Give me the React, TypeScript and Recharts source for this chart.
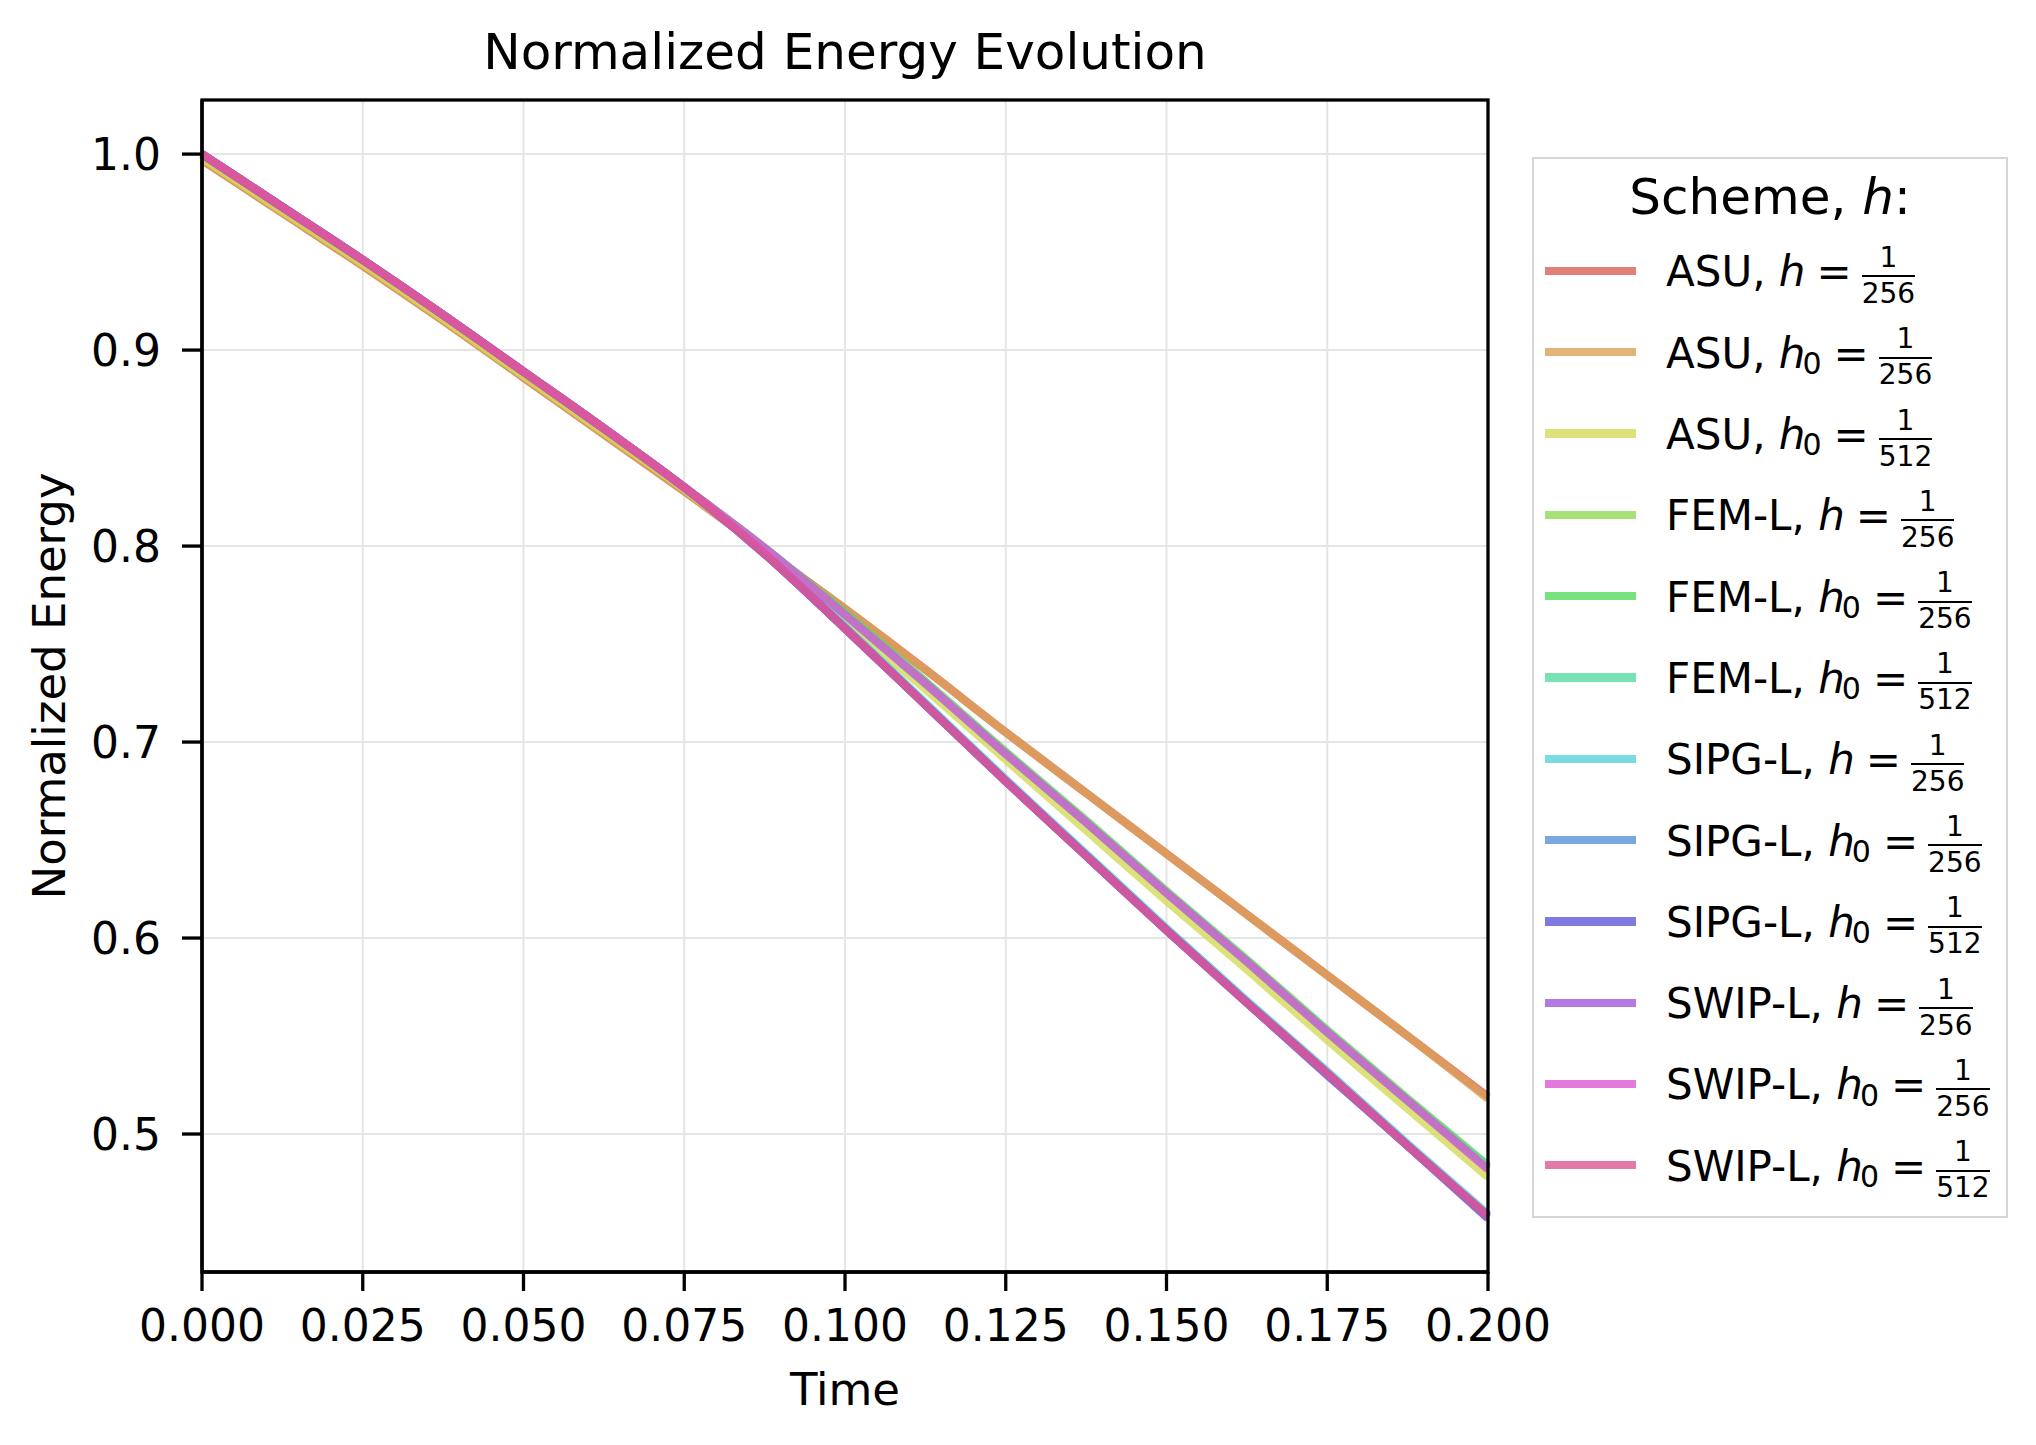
import React from 'react';
import { LineChart, Line, XAxis, YAxis, CartesianGrid } from 'recharts';

// time samples (x axis)
const time = [0, 0.0125, 0.025, 0.0375, 0.05, 0.0625, 0.075, 0.0875, 0.1, 0.1125, 0.125, 0.1375, 0.15, 0.1625, 0.175, 0.1875, 0.2];

// normalized energy per scheme
const asuH256 = [0.997, 0.970, 0.943, 0.915, 0.886, 0.857, 0.828, 0.798, 0.768, 0.737, 0.705, 0.674, 0.643, 0.612, 0.581, 0.550, 0.519];
const asuH0_256 = [0.997, 0.970, 0.943, 0.915, 0.886, 0.857, 0.828, 0.798, 0.768, 0.737, 0.705, 0.674, 0.643, 0.612, 0.581, 0.550, 0.518];
const asuH0_512 = [0.998, 0.971, 0.944, 0.916, 0.887, 0.858, 0.829, 0.797, 0.762, 0.727, 0.691, 0.655, 0.619, 0.584, 0.548, 0.513, 0.478];
const femH256 = [1.000, 0.973, 0.946, 0.918, 0.889, 0.860, 0.830, 0.799, 0.765, 0.730, 0.694, 0.659, 0.623, 0.588, 0.552, 0.517, 0.483];
const femH0_256 = [1.000, 0.973, 0.946, 0.918, 0.889, 0.860, 0.830, 0.799, 0.766, 0.731, 0.695, 0.660, 0.624, 0.589, 0.553, 0.518, 0.484];
const femH0_512 = [1.000, 0.973, 0.946, 0.918, 0.889, 0.860, 0.830, 0.799, 0.765, 0.730, 0.694, 0.659, 0.623, 0.588, 0.552, 0.517, 0.483];
const sipgH256 = [1.000, 0.973, 0.946, 0.918, 0.889, 0.860, 0.830, 0.797, 0.759, 0.720, 0.681, 0.643, 0.605, 0.568, 0.532, 0.495, 0.459];
const sipgH0_256 = [1.000, 0.973, 0.946, 0.918, 0.889, 0.860, 0.830, 0.796, 0.758, 0.719, 0.680, 0.642, 0.604, 0.567, 0.531, 0.494, 0.458];
const sipgH0_512 = [1.000, 0.973, 0.946, 0.918, 0.889, 0.860, 0.830, 0.796, 0.758, 0.719, 0.680, 0.642, 0.604, 0.567, 0.530, 0.494, 0.457];
const swipH256 = [1.000, 0.973, 0.946, 0.918, 0.889, 0.860, 0.830, 0.796, 0.758, 0.719, 0.680, 0.642, 0.604, 0.567, 0.531, 0.494, 0.458];
const swipH0_256 = [1.000, 0.973, 0.946, 0.918, 0.889, 0.860, 0.830, 0.799, 0.765, 0.730, 0.694, 0.659, 0.623, 0.588, 0.552, 0.517, 0.482];
const swipH0_512 = [1.000, 0.973, 0.946, 0.918, 0.889, 0.860, 0.830, 0.796, 0.758, 0.719, 0.680, 0.642, 0.604, 0.567, 0.531, 0.494, 0.458];

const seriesValues = [asuH256, asuH0_256, asuH0_512, femH256, femH0_256, femH0_512, sipgH256, sipgH0_256, sipgH0_512, swipH256, swipH0_256, swipH0_512];

// legend pieces
const schemes = ['ASU', 'ASU', 'ASU', 'FEM-L', 'FEM-L', 'FEM-L', 'SIPG-L', 'SIPG-L', 'SIPG-L', 'SWIP-L', 'SWIP-L', 'SWIP-L'];
const adaptive = [false, true, true, false, true, true, false, true, true, false, true, true];
const denominators = ['256', '256', '512', '256', '256', '512', '256', '256', '512', '256', '256', '512'];
const colors = ['#db5f57', '#dba157', '#d3db57', '#91db57', '#57db5f', '#57dba1', '#57d3db', '#5791db', '#5f57db', '#a157db', '#db57d3', '#db5791'];

const xTicks = [0, 0.025, 0.05, 0.075, 0.1, 0.125, 0.15, 0.175, 0.2];
const yTicks = [0.5, 0.6, 0.7, 0.8, 0.9, 1.0];

const data = time.map((t, i) => {
  const row: any = { t };
  seriesValues.forEach((s, k) => { row['s' + k] = s[i]; });
  return row;
});

const FONT = 'DejaVu Sans';
const W = 2036, H = 1445;
const PLOT_L = 202, PLOT_R = 1488, PLOT_T = 100, PLOT_B = 1272;
const Y_AXIS_W = 150, X_AXIS_H = 90;
const LINE_W = 8.3;

const frameAxis = { stroke: '#000', strokeWidth: 3.3 };
const tickStyle = { fontSize: 44, fill: '#000', fontFamily: FONT };

const LegendBox = () => {
  const boxL = 1532, boxT = 157, boxW = 476, boxH = 1061;
  const rowY0 = 271, rowStep = 81.3;
  const fs = 42;
  return (
    <>
      <div style={{ position: 'absolute', left: boxL, top: boxT, width: boxW, height: boxH, border: '2px solid #d6d6d6', boxSizing: 'border-box', background: '#fff' }} />
      <div style={{ position: 'absolute', left: boxL, width: boxW, top: 214 - 0.846 * 50, fontSize: 50, lineHeight: '50px', textAlign: 'center', whiteSpace: 'pre' }}>
        Scheme, <span style={{ fontStyle: 'italic' }}>h</span>:
      </div>
      {schemes.map((name, i) => {
        const cy = rowY0 + rowStep * i;
        const base = cy + 16;
        return (
          <React.Fragment key={i}>
            <div style={{ position: 'absolute', left: 1545, width: 91, top: cy - LINE_W / 2, height: LINE_W, background: colors[i], opacity: 0.8 }} />
            <div style={{ position: 'absolute', left: 1666, top: base - 0.846 * fs, display: 'flex', alignItems: 'flex-start', fontSize: fs, lineHeight: fs + 'px', whiteSpace: 'pre' }}>
              <span>{name}, </span>
              <span style={{ fontStyle: 'italic' }}>h</span>
              {adaptive[i] && <span style={{ fontSize: 30, lineHeight: '30px', marginTop: 0.846 * fs + 6 - 0.846 * 30, marginLeft: -3 }}>0</span>}
              <span style={{ marginLeft: adaptive[i] ? 12 : 11 }}>=</span>
              <span style={{ marginLeft: 8, marginTop: -7.5, display: 'flex', flexDirection: 'column', alignItems: 'center', fontSize: 28, lineHeight: '28px', padding: '0 2px' }}>
                <span>1</span>
                <span style={{ alignSelf: 'stretch', height: 2, background: '#000', marginTop: 3.4, marginBottom: 2.6 }} />
                <span>{denominators[i]}</span>
              </span>
            </div>
          </React.Fragment>
        );
      })}
    </>
  );
};

const App = () => {
  const cx = (PLOT_L + PLOT_R) / 2;
  const cy = (PLOT_T + PLOT_B) / 2;
  return (
    <div style={{ position: 'absolute', left: 0, top: 0, width: W, height: H, background: '#fff', fontFamily: FONT, color: '#000' }}>
      <LineChart
        width={W}
        height={H}
        data={data}
        margin={{ top: PLOT_T, right: W - PLOT_R, bottom: H - PLOT_B - X_AXIS_H, left: PLOT_L - Y_AXIS_W }}
      >
        <CartesianGrid stroke="#e5e5e5" strokeWidth={2} />
        <XAxis
          dataKey="t"
          type="number"
          domain={[0, 0.2]}
          ticks={xTicks}
          interval={0}
          height={X_AXIS_H}
          tickFormatter={(v: number) => v.toFixed(3)}
          tick={tickStyle}
          tickSize={19}
          tickMargin={19}
          axisLine={frameAxis}
          tickLine={frameAxis}
        />
        <YAxis
          type="number"
          domain={[0.4296, 1.0276]}
          ticks={yTicks}
          interval={0}
          width={Y_AXIS_W}
          tickFormatter={(v: number) => v.toFixed(1)}
          tick={tickStyle}
          tickSize={20}
          tickMargin={21}
          axisLine={frameAxis}
          tickLine={frameAxis}
        />
        {seriesValues.map((_, k) => (
          <Line
            key={k}
            type="monotone"
            dataKey={'s' + k}
            stroke={colors[k]}
            strokeOpacity={0.8}
            strokeWidth={LINE_W}
            dot={false}
            activeDot={false}
            isAnimationActive={false}
          />
        ))}
      </LineChart>
      <svg width={W} height={H} style={{ position: 'absolute', left: 0, top: 0, pointerEvents: 'none' }}>
        <rect x={PLOT_L} y={PLOT_T} width={PLOT_R - PLOT_L} height={PLOT_B - PLOT_T} fill="none" stroke="#000" strokeWidth={3.3} />
        <text x={cx} y={69} textAnchor="middle" fontSize={50} fontFamily={FONT} fill="#000">Normalized Energy Evolution</text>
        <text x={cx} y={1405} textAnchor="middle" fontSize={45} fontFamily={FONT} fill="#000">Time</text>
        <text x={65} y={cy} textAnchor="middle" fontSize={45} fontFamily={FONT} fill="#000" transform={`rotate(-90, 65, ${cy})`}>Normalized Energy</text>
      </svg>
      <LegendBox />
    </div>
  );
};

export default App;
